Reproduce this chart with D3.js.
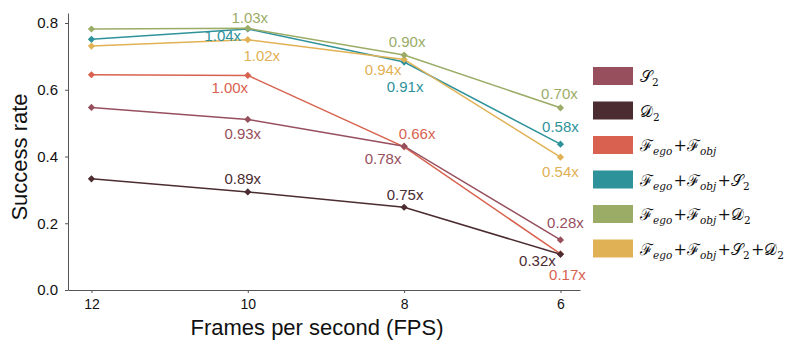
<!DOCTYPE html>
<head>
  <meta charset="utf-8">
  <script src="https://d3js.org/d3.v7.min.js"></script>
  <style>
    body { margin: 0; background: #fff; }
    text { font-family: "Liberation Sans", Arial, Helvetica, sans-serif; }
    .legend text { font-family: "DejaVu Serif", "Liberation Serif", serif; }
  </style>
</head>
<body>
<div id="chart"></div>
<script>
var width = 789, height = 348;

// data
var fps = [12, 10, 8, 6];
var seriesNames = ["𝒮_2", "𝒟_2", "ℱ_ego+ℱ_obj", "ℱ_ego+ℱ_obj+𝒮_2", "ℱ_ego+ℱ_obj+𝒟_2", "ℱ_ego+ℱ_obj+𝒮_2+𝒟_2"];
var s2       = [0.547, 0.511, 0.431, 0.150];
var d2       = [0.333, 0.294, 0.248, 0.107];
var fF       = [0.645, 0.643, 0.429, 0.108];
var fFS2     = [0.751, 0.782, 0.683, 0.437];
var fFD2     = [0.782, 0.784, 0.704, 0.546];
var fFS2D2   = [0.731, 0.750, 0.691, 0.398];
var s2Labels     = ["", "0.93x", "0.78x", "0.28x"];
var d2Labels     = ["", "0.89x", "0.75x", "0.32x"];
var fFLabels     = ["", "1.00x", "0.66x", "0.17x"];
var fFS2Labels   = ["", "1.04x", "0.91x", "0.58x"];
var fFD2Labels   = ["", "1.03x", "0.90x", "0.70x"];
var fFS2D2Labels = ["", "1.02x", "0.94x", "0.54x"];
var yTicks = [0, 0.2, 0.4, 0.6, 0.8];

var colors = ["#974f5e", "#4b2c31", "#d8624f", "#2e929b", "#9bac67", "#e1b155"];
// label placement relative to the point: [dx, dy]
var offsets = [
  [null, [-5, 20], [-21, 18], [5, -12]],
  [null, [-5, -8], [1, -7], [-23, 12]],
  [null, [-18, 18], [13, -8], [7, 26]],
  [null, [-25, 12], [1, 30], [0, -12]],
  [null, [2, -5], [3, -8], [-1, -9]],
  [null, [14, 21], [-21, 16], [0, 20]]
];

var series = [s2, d2, fF, fFS2, fFD2, fFS2D2].map(function(v, i) {
  return {name: seriesNames[i], values: v, color: colors[i], off: offsets[i],
    labels: [s2Labels, d2Labels, fFLabels, fFS2Labels, fFD2Labels, fFS2D2Labels][i]};
});
var drawOrder = [2, 3, 5, 4, 0, 1];

var svg = d3.select("#chart").append("svg")
  .attr("width", width)
  .attr("height", height);

var x = d3.scaleLinear().domain([12.3, 5.75]).range([68, 580]);
var y = d3.scaleLinear().domain([0, 0.83]).range([290, 13]);

var xAxis = svg.append("g")
  .attr("transform", "translate(0,290)")
  .call(d3.axisBottom(x).tickValues(fps).tickFormat(d3.format("d")).tickSize(3).tickSizeOuter(0).tickPadding(6));
var yAxis = svg.append("g")
  .attr("transform", "translate(68,0)")
  .call(d3.axisLeft(y).tickValues(yTicks).tickFormat(d3.format(".1f")).tickSize(3).tickSizeOuter(0).tickPadding(7));
[xAxis, yAxis].forEach(function(a) {
  a.selectAll("path, line").attr("stroke", "#555");
  a.selectAll("text").attr("fill", "#111").style("font-family", "'Liberation Sans', Arial, sans-serif");
});
xAxis.selectAll("text").style("font-size", "14px");
yAxis.selectAll("text").style("font-size", "15px");

svg.append("text")
  .attr("transform", "translate(27,157) rotate(-90)")
  .attr("text-anchor", "middle")
  .style("font-size", "22px")
  .attr("fill", "#111")
  .text("Success rate");
svg.append("text")
  .attr("x", 317).attr("y", 335)
  .attr("text-anchor", "middle")
  .style("font-size", "22px")
  .attr("fill", "#111")
  .text("Frames per second (FPS)");

var line = d3.line()
  .x(function(d, i) { return x(fps[i]); })
  .y(function(d) { return y(d); });

var diamond = d3.symbol().type(d3.symbolSquare).size(26);

drawOrder.forEach(function(k) {
  var s = series[k];
  var g = svg.append("g");
  g.append("path")
    .attr("d", line(s.values))
    .attr("fill", "none")
    .attr("stroke", s.color)
    .attr("stroke-width", 1.5);
  g.selectAll(".pt")
    .data(s.values)
    .enter()
    .append("path")
    .attr("d", diamond)
    .attr("transform", function(d, i) { return "translate(" + x(fps[i]) + "," + y(d) + ") rotate(45)"; })
    .attr("fill", s.color);
});

series.forEach(function(s) {
  svg.append("g").selectAll("text")
    .data(s.values)
    .enter()
    .filter(function(d, i) { return s.labels[i] !== ""; })
    .append("text")
    .attr("x", function(d) { var i = s.values.indexOf(d); return x(fps[i]) + s.off[i][0]; })
    .attr("y", function(d) { var i = s.values.indexOf(d); return y(d) + s.off[i][1]; })
    .attr("text-anchor", "middle")
    .style("font-size", "15px")
    .attr("fill", s.color)
    .text(function(d) { return s.labels[s.values.indexOf(d)]; });
});

// legend
var legend = svg.append("g").attr("class", "legend");
series.forEach(function(s, i) {
  var cy = 76 + i * 34.5;
  legend.append("rect")
    .attr("x", 593).attr("y", cy - 9)
    .attr("width", 40).attr("height", 18)
    .attr("fill", s.color);
  var t = legend.append("text")
    .attr("x", 640).attr("y", cy + 6)
    .style("font-size", "16px")
    .attr("fill", "#111");
  s.name.split("+").forEach(function(term, j) {
    var parts = term.split("_");
    if (j > 0) t.append("tspan").attr("dy", 0).style("font-size", "16px").text("+");
    t.append("tspan").text(parts[0]);
    t.append("tspan")
      .attr("dy", 4)
      .style("font-size", "10.5px")
      .style("font-style", parts[1] === "2" ? "normal" : "italic")
      .text(parts[1]);
    t.append("tspan").attr("dy", -4).style("font-size", "4px").text(" ");
  });
});
</script>
</body>
</html>
